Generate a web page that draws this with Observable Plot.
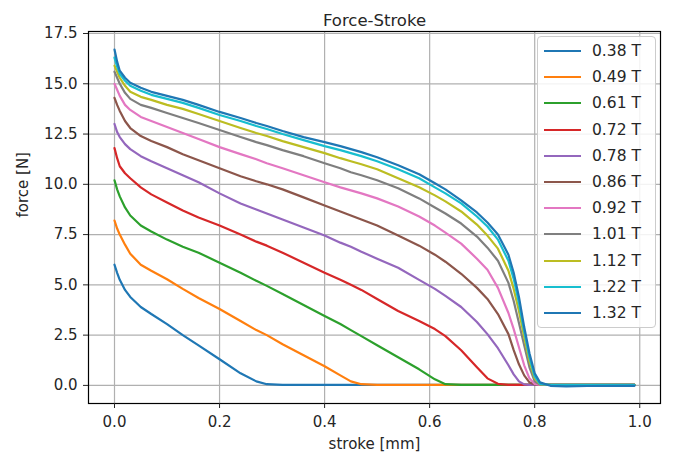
<!DOCTYPE html>
<html>
<head>
<meta charset="utf-8">
<script src="https://cdn.jsdelivr.net/npm/d3@7"></script>
<script src="https://cdn.jsdelivr.net/npm/@observablehq/plot@0.6"></script>
<style>
  html, body { margin: 0; padding: 0; background: #fff; }
  #wrap { position: relative; width: 675px; height: 463px; font-family: "DejaVu Sans", sans-serif; }
  #legend { position: absolute; left: 537px; top: 36px; width: 119px; box-sizing: border-box;
            border: 1px solid #cccccc; border-radius: 4px; background: rgba(255,255,255,0.85); padding: 1px 0; }
  .row { height: 26.2px; display: flex; align-items: center; font-size: 15.5px; color: #262626; }
  .sw { width: 37px; height: 0; border-top: 2.2px solid; margin-left: 6px; margin-right: 11px; }
</style>
</head>
<body>
<div id="wrap"></div>
<script>
const titleText = "Force-Stroke";
const xLabel = "stroke [mm]";
const yLabel = "force [N]";
const xTicks = [0, 0.2, 0.4, 0.6, 0.8, 1.0];
const yTicks = [0, 2.5, 5, 7.5, 10, 12.5, 15, 17.5];

const seriesNames = ["0.38 T","0.49 T","0.61 T","0.72 T","0.78 T","0.86 T","0.92 T","1.01 T","1.12 T","1.22 T","1.32 T"];
const seriesColors = ["#1f77b4","#ff7f0e","#2ca02c","#d62728","#9467bd","#8c564b","#e377c2","#7f7f7f","#bcbd22","#17becf","#1f77b4"];

const stroke = [0, 0.005, 0.01, 0.02, 0.03, 0.05, 0.07, 0.10, 0.13, 0.16,
                0.20, 0.24, 0.27, 0.29, 0.32, 0.36, 0.40, 0.43, 0.45, 0.47,
                0.50, 0.54, 0.58, 0.61, 0.63, 0.66, 0.69, 0.71, 0.73, 0.75,
                0.76, 0.77, 0.78, 0.79, 0.80, 0.81, 0.83, 0.86, 0.90, 0.99];

const f038 = [6.0, 5.6, 5.25, 4.75, 4.4, 3.9, 3.55, 3.05, 2.5, 1.99,
              1.3, 0.6, 0.2, 0.06, 0.03, 0.03, 0.03, 0.03, 0.03, 0.03,
              0.03, 0.03, 0.03, 0.03, 0.03, 0.03, 0.03, 0.03, 0.03, 0.03,
              0.03, 0.03, 0.03, 0.03, 0.03, 0.03, 0.03, 0.02, 0.02, 0.02];
const f049 = [8.2, 7.8, 7.5, 7.0, 6.55, 6.0, 5.7, 5.28, 4.8, 4.35,
              3.8, 3.2, 2.75, 2.5, 2.05, 1.5, 0.95, 0.5, 0.2, 0.06,
              0.03, 0.03, 0.03, 0.03, 0.03, 0.03, 0.03, 0.03, 0.03, 0.03,
              0.03, 0.03, 0.03, 0.03, 0.03, 0.03, 0.03, 0.03, 0.03, 0.03];
const f061 = [10.2, 9.75, 9.4, 8.85, 8.45, 7.95, 7.65, 7.25, 6.9, 6.6,
              6.1, 5.6, 5.2, 4.95, 4.55, 4.0, 3.45, 3.05, 2.75, 2.45,
              2.0, 1.4, 0.8, 0.3, 0.06, 0.03, 0.03, 0.03, 0.03, 0.03,
              0.03, 0.03, 0.03, 0.03, 0.03, 0.03, 0.03, 0.03, 0.03, 0.03];
const f072 = [11.8, 11.3, 10.9, 10.55, 10.3, 9.85, 9.5, 9.1, 8.7, 8.35,
              7.95, 7.5, 7.15, 6.95, 6.6, 6.1, 5.6, 5.25, 5.0, 4.75,
              4.3, 3.7, 3.2, 2.8, 2.45, 1.75, 0.9, 0.35, 0.08, 0.03,
              0.03, 0.03, 0.03, 0.03, 0.03, 0.03, 0.03, 0.03, 0.03, 0.03];
const f078 = [13.0, 12.6, 12.35, 12.0, 11.75, 11.4, 11.15, 10.8, 10.45, 10.1,
              9.55, 9.05, 8.75, 8.55, 8.25, 7.85, 7.45, 7.1, 6.9, 6.65,
              6.3, 5.85, 5.25, 4.8, 4.45, 3.9, 3.15, 2.55, 1.85, 1.0,
              0.55, 0.2, 0.05, 0.03, 0.03, 0.03, 0.03, 0.03, 0.03, 0.03];
const f086 = [14.3, 13.95, 13.65, 13.15, 12.8, 12.4, 12.15, 11.85, 11.5, 11.2,
              10.8, 10.4, 10.15, 10.0, 9.75, 9.35, 8.95, 8.65, 8.45, 8.25,
              7.95, 7.45, 6.95, 6.5, 6.15, 5.55, 4.85, 4.3, 3.55, 2.55,
              1.75, 1.05, 0.5, 0.15, 0.04, 0.03, 0.03, 0.03, 0.03, 0.03];
const f092 = [15.0, 14.7, 14.4, 13.95, 13.7, 13.35, 13.15, 12.85, 12.55, 12.25,
              11.85, 11.5, 11.25, 11.05, 10.8, 10.45, 10.1, 9.85, 9.7, 9.55,
              9.3, 8.9, 8.4, 7.95, 7.6, 7.05, 6.3, 5.75, 4.85, 3.6,
              2.8, 1.9, 1.0, 0.35, 0.07, 0.03, 0.03, 0.03, 0.03, 0.03];
const f101 = [15.6, 15.3, 15.0, 14.55, 14.25, 13.95, 13.8, 13.55, 13.3, 13.05,
              12.7, 12.35, 12.1, 11.95, 11.7, 11.4, 11.05, 10.8, 10.6, 10.45,
              10.2, 9.8, 9.3, 8.85, 8.55, 8.05, 7.4, 6.85, 6.2, 5.1,
              4.2, 3.1, 2.0, 0.9, 0.2, 0.04, 0.03, 0.03, 0.03, 0.03];
const f112 = [15.9, 15.6, 15.3, 14.9, 14.6, 14.35, 14.2, 13.95, 13.75, 13.5,
              13.15, 12.8, 12.55, 12.4, 12.15, 11.85, 11.55, 11.3, 11.15, 11.0,
              10.75, 10.3, 9.85, 9.45, 9.15, 8.65, 8.0, 7.45, 6.8, 5.7,
              4.8, 3.7, 2.4, 1.2, 0.35, 0.06, 0.03, 0.03, 0.03, 0.03];
const f122 = [16.3, 15.85, 15.5, 15.15, 14.9, 14.65, 14.45, 14.25, 14.05, 13.8,
              13.45, 13.15, 12.9, 12.75, 12.5, 12.2, 11.9, 11.7, 11.55, 11.4,
              11.15, 10.75, 10.3, 9.85, 9.55, 9.05, 8.4, 7.9, 7.25, 6.2,
              5.3, 4.1, 2.7, 1.4, 0.45, 0.08, 0.03, 0.03, 0.03, 0.03];
const f132 = [16.7, 16.1, 15.65, 15.3, 15.05, 14.8, 14.6, 14.4, 14.2, 13.95,
              13.6, 13.3, 13.05, 12.9, 12.65, 12.35, 12.1, 11.9, 11.75, 11.6,
              11.35, 10.95, 10.5, 10.05, 9.75, 9.2, 8.6, 8.1, 7.5, 6.5,
              5.6, 4.4, 2.9, 1.6, 0.6, 0.15, -0.02, -0.05, -0.03, -0.02];

const forces = [f038, f049, f061, f072, f078, f086, f092, f101, f112, f122, f132];

const data = seriesNames.flatMap((name, i) =>
  stroke.map((x, j) => ({x, y: forces[i][j], s: i})));

const chart = Plot.plot({
  width: 675,
  height: 463,
  marginTop: 31,
  marginBottom: 60,
  marginLeft: 88,
  marginRight: 15,
  style: {fontFamily: "DejaVu Sans, sans-serif", fontSize: "15px", color: "#262626", background: "#fff"},
  x: {domain: [-0.0495, 1.0395], ticks: xTicks, tickFormat: d3.format(".1f"), label: null},
  y: {domain: [-0.9, 17.6], ticks: yTicks, tickFormat: d3.format(".1f"), label: null},
  color: {type: "ordinal", domain: d3.range(seriesNames.length), range: seriesColors},
  marks: [
    Plot.gridX(xTicks, {stroke: "#b0b0b0", strokeOpacity: 1, strokeWidth: 1.2}),
    Plot.gridY(yTicks, {stroke: "#b0b0b0", strokeOpacity: 1, strokeWidth: 1.2}),
    Plot.line(data, {x: "x", y: "y", z: "s", stroke: "s", strokeWidth: 2.2}),
    Plot.frame({stroke: "#000", strokeWidth: 1.2}),
    Plot.axisX(xTicks, {tickSize: 5, tickPadding: 8, tickFormat: d3.format(".1f"), label: null, fontSize: 15}),
    Plot.axisY(yTicks, {tickSize: 5, tickPadding: 6, tickFormat: d3.format(".1f"), label: null, fontSize: 15}),
    Plot.text([titleText], {frameAnchor: "top", dy: -17, fontSize: 16.5, fill: "#262626"}),
    Plot.text([xLabel], {frameAnchor: "bottom", dy: 45, fontSize: 15, fill: "#262626"}),
    Plot.text([yLabel], {frameAnchor: "left", dx: -65, rotate: -90, fontSize: 15, fill: "#262626"})
  ]
});

const wrap = document.getElementById("wrap");
wrap.appendChild(chart);

const legend = document.createElement("div");
legend.id = "legend";
seriesNames.forEach((name, i) => {
  const row = document.createElement("div");
  row.className = "row";
  const sw = document.createElement("div");
  sw.className = "sw";
  sw.style.borderTopColor = seriesColors[i];
  const lab = document.createElement("span");
  lab.textContent = name;
  row.appendChild(sw);
  row.appendChild(lab);
  legend.appendChild(row);
});
wrap.appendChild(legend);
</script>
</body>
</html>
